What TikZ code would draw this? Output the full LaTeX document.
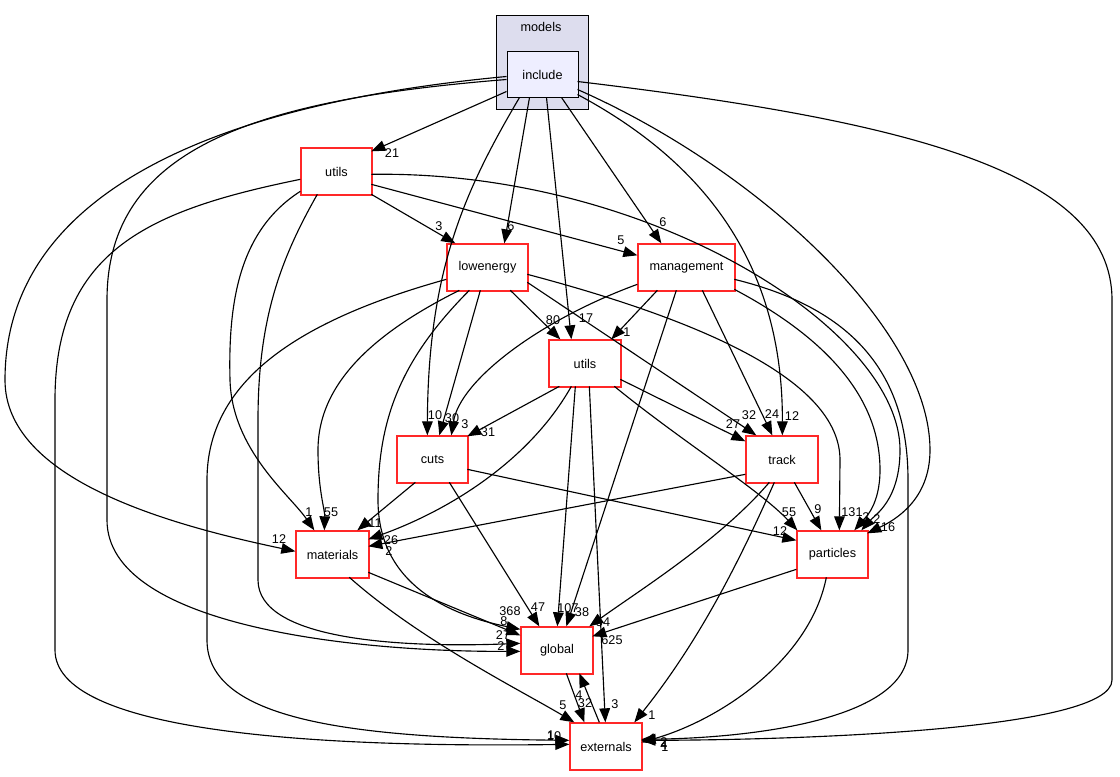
\documentclass[tikz,border=0pt]{standalone}
\usepackage{fontspec}
\setmainfont{Liberation Sans}
\usetikzlibrary{arrows.meta,calc}
\definecolor{dirred}{RGB}{255,40,40}
\definecolor{clusterfill}{RGB}{221,221,238}
\definecolor{incfill}{RGB}{238,238,255}
\newcommand\lblfont{\fontsize{9.5}{11}\selectfont}
\tikzset{
  dirbox/.style={draw=dirred, fill=white, line width=1pt, inner sep=0pt, minimum height=35.25pt, font=\lblfont},
  dep/.style={draw=black, line width=0.85pt, -{Triangle[length=10.5pt,width=8pt]}},
  lab/.style={font=\lblfont, inner sep=0pt},
}
\newcommand\lab[4]{\node[lab] (#1) at (#2,#3) {#4};}
\begin{document}
\begin{tikzpicture}[x=0.75pt,y=-0.75pt]
\useasboundingbox (0,0) rectangle (1120,777);
\node[draw, fill=clusterfill, line width=0.75pt, inner sep=0pt, minimum width=69pt, minimum height=70.5pt] (models) at (542,63) {};
\node[lab] (modelslabel) at (541,27) {models};
\node[draw, fill=incfill, line width=0.75pt, inner sep=0pt, minimum width=53.25pt, minimum height=34.5pt, font=\lblfont] (include) at (542.5,75) {include};

\node[dirbox, minimum width=53.25pt] (utilsA) at (336.5,171.5) {utils};
\node[dirbox, minimum width=60.75pt] (lowenergy) at (487.5,267.5) {lowenergy};
\node[dirbox, minimum width=72.75pt] (management) at (686.5,267.5) {management};
\node[dirbox, minimum width=54pt] (utilsB) at (585,363.5) {utils};
\node[dirbox, minimum width=53.25pt] (cuts) at (432.5,459.5) {cuts};
\node[dirbox, minimum width=54pt] (track) at (782,459.5) {track};
\node[dirbox, minimum width=54.75pt] (materials) at (332.5,554.5) {materials};
\node[dirbox, minimum width=53.25pt] (particles) at (832.5,554.5) {particles};
\node[dirbox, minimum width=54pt] (global) at (557,650.5) {global};
\node[dirbox, minimum width=54pt] (externals) at (606,746.5) {externals};

% from include
\draw[dep] ($(include.north west)+(0,40)$) -- ($(utilsA.north west)+(71,4)$);
\draw[dep] ($(include.north west)+(23,46)$) -- ($(lowenergy.north west)+(58,0)$);
\draw[dep] ($(include.north west)+(55,46)$) -- ($(management.north west)+(24,0)$);
\draw[dep] ($(include.north west)+(40,46)$) -- ($(utilsB.north west)+(23,0)$);
\draw[dep] ($(include.north west)+(13,46)$) .. controls (465,190) and (428,270) .. ($(cuts.north west)+(31,0)$);
\draw[dep] ($(include.north west)+(71,43)$) .. controls (700,160) and (783,260) .. ($(track.north west)+(37,0)$);
\draw[dep] ($(include.north west)+(71,38)$) .. controls (760,170) and (930,330) .. (930,450) .. controls (930,500) and (895,520) .. ($(particles.north west)+(71,3)$);
\draw[dep] ($(include.north west)+(71,30)$) .. controls (900,120) and (1112,170) .. (1112,300) -- (1112,680) .. controls (1112,730) and (800,740) .. ($(externals.north west)+(72,18)$);
\draw[dep] ($(include.north west)+(0,25)$) .. controls (200,105) and (5,200) .. (5,380) .. controls (5,480) and (170,525) .. ($(materials.north west)+(0,21)$);
\draw[dep] ($(include.north west)+(0,28)$) .. controls (250,100) and (107,150) .. (107,300) -- (107,520) .. controls (107,625) and (350,652) .. ($(global.north west)+(0,25)$);

% from utils (top)
\draw[dep] ($(utilsA.north west)+(71,47)$) -- ($(lowenergy.north west)+(9,0)$);
\draw[dep] ($(utilsA.north west)+(71,37)$) -- ($(management.north west)+(0,12)$);
\draw[dep] ($(utilsA.north west)+(71,27)$) .. controls (650,170) and (900,330) .. (900,450) .. controls (900,500) and (875,515) .. ($(particles.north west)+(65,0)$);
\draw[dep] ($(utilsA.north west)+(0,44)$) .. controls (240,230) and (228,300) .. (230,380) .. controls (232,450) and (290,495) .. ($(materials.north west)+(19,0)$);
\draw[dep] ($(utilsA.north west)+(17,47)$) .. controls (280,260) and (258,320) .. (258,420) -- (258,580) .. controls (258,640) and (400,648) .. ($(global.north west)+(0,17)$);
\draw[dep] ($(utilsA.north west)+(0,32)$) .. controls (150,210) and (55,250) .. (55,400) -- (55,650) .. controls (55,730) and (300,748) .. ($(externals.north west)+(0,22)$);

% from lowenergy
\draw[dep] ($(lowenergy.north west)+(64,47)$) -- ($(utilsB.north west)+(12,0)$);
\draw[dep] ($(lowenergy.north west)+(34,47)$) -- ($(cuts.north west)+(43,0)$);
\draw[dep] ($(lowenergy.north west)+(81,39)$) -- ($(track.north west)+(11,0)$);
\draw[dep] ($(lowenergy.north west)+(13,47)$) .. controls (380,330) and (318,380) .. (318,450) .. controls (318,490) and (325,510) .. ($(materials.north west)+(29,0)$);
\draw[dep] ($(lowenergy.north west)+(23,47)$) .. controls (400,360) and (378,420) .. (378,500) .. controls (378,585) and (450,615) .. ($(global.north west)+(0,3)$);
\draw[dep] ($(lowenergy.north west)+(0,36)$) .. controls (300,320) and (207,380) .. (207,480) -- (207,640) .. controls (207,720) and (350,738) .. ($(externals.north west)+(0,18)$);
\draw[dep] ($(lowenergy.north west)+(81,31)$) .. controls (700,320) and (840,380) .. (840,460) -- ($(particles.north west)+(43,0)$);

% from management
\draw[dep] ($(management.north west)+(20,47)$) -- ($(utilsB.north west)+(63,0)$);
\draw[dep] ($(management.north west)+(0,41)$) .. controls (540,320) and (460,380) .. ($(cuts.north west)+(55,0)$);
\draw[dep] ($(management.north west)+(65,47)$) -- ($(track.north west)+(27,0)$);
\draw[dep] ($(management.north west)+(39,47)$) -- ($(global.north west)+(46,0)$);
\draw[dep] ($(management.north west)+(97,46)$) .. controls (830,340) and (880,400) .. (880,470) .. controls (880,505) and (865,518) .. ($(particles.north west)+(58,0)$);
\draw[dep] ($(management.north west)+(97,36)$) .. controls (860,310) and (908,380) .. (908,480) -- (908,650) .. controls (908,720) and (750,738) .. ($(externals.north west)+(72,17)$);

% from utils (middle)
\draw[dep] ($(utilsB.north west)+(11,47)$) -- ($(cuts.north west)+(71,1)$);
\draw[dep] ($(utilsB.north west)+(72,40)$) -- ($(track.north west)+(0,6)$);
\draw[dep] ($(utilsB.north west)+(23,47)$) .. controls (530,460) and (450,510) .. ($(materials.north west)+(73,9)$);
\draw[dep] ($(utilsB.north west)+(27,47)$) -- ($(global.north west)+(37,0)$);
\draw[dep] ($(utilsB.north west)+(41,47)$) -- ($(externals.north west)+(36,0)$);
\draw[dep] ($(utilsB.north west)+(66,47)$) .. controls (680,440) and (760,490) .. ($(particles.north west)+(1,0)$);

% from cuts
\draw[dep] ($(cuts.north west)+(19,47)$) -- ($(materials.north west)+(62,0)$);
\draw[dep] ($(cuts.north west)+(53,47)$) -- ($(global.north west)+(19,0)$);
\draw[dep] ($(cuts.north west)+(71,34)$) -- ($(particles.north west)+(0,10)$);

% from track
\draw[dep] ($(track.north west)+(49,47)$) -- ($(particles.north west)+(25,0)$);
\draw[dep] ($(track.north west)+(0,39)$) -- ($(materials.north west)+(73,16)$);
\draw[dep] ($(track.north west)+(24,47)$) .. controls (720,540) and (640,590) .. ($(global.north west)+(69,0)$);
\draw[dep] ($(track.north west)+(29,47)$) .. controls (740,560) and (700,640) .. ($(externals.north west)+(65,0)$);

% from materials
\draw[dep] ($(materials.north west)+(73,42)$) -- ($(global.north west)+(0,9)$);
\draw[dep] ($(materials.north west)+(54,47)$) .. controls (420,640) and (520,690) .. ($(externals.north west)+(5,0)$);

% from particles
\draw[dep] ($(particles.north west)+(0,39)$) -- ($(global.north west)+(72,10)$);
\draw[dep] ($(particles.north west)+(30,47)$) .. controls (810,660) and (720,720) .. ($(externals.north west)+(72,20)$);

% global <-> externals
\draw[dep] ($(global.north west)+(46,47)$) -- ($(externals.north west)+(15,0)$);
\draw[dep] ($(externals.north west)+(30,0)$) -- ($(global.north west)+(59,47)$);

% labels
\lab{l1}{392}{153}{21}
\lab{l2}{511}{226}{6}
\lab{l3}{663}{222}{6}
\lab{l4}{586}{318}{17}
\lab{l5}{435}{415}{10}
\lab{l6}{792}{416}{12}
\lab{l7}{888}{527}{16}
\lab{l8}{664}{742}{2}
\lab{l9}{279}{539}{12}
\lab{l10}{501}{646}{2}
\lab{l11}{439}{226}{3}
\lab{l12}{621}{240}{5}
\lab{l13}{877}{519}{2}
\lab{l14}{309}{512}{1}
\lab{l15}{503}{635}{27}
\lab{l16}{554}{736}{10}
\lab{l17}{553}{320}{80}
\lab{l18}{452}{418}{30}
\lab{l19}{749}{415}{32}
\lab{l20}{331}{512}{55}
\lab{l21}{510}{611}{368}
\lab{l22}{551}{735}{1}
\lab{l23}{852}{512}{131}
\lab{l24}{627}{332}{1}
\lab{l25}{465}{424}{3}
\lab{l26}{772}{414}{24}
\lab{l27}{582}{612}{38}
\lab{l28}{866}{517}{2}
\lab{l29}{664}{745}{4}
\lab{l30}{488}{432}{31}
\lab{l31}{733}{424}{27}
\lab{l32}{391}{540}{26}
\lab{l33}{568}{608}{107}
\lab{l34}{615}{704}{3}
\lab{l35}{789}{512}{55}
\lab{l36}{375}{523}{11}
\lab{l37}{538}{607}{47}
\lab{l38}{780}{531}{12}
\lab{l39}{818}{509}{9}
\lab{l40}{389}{551}{2}
\lab{l41}{603}{622}{54}
\lab{l42}{652}{715}{1}
\lab{l43}{504}{621}{8}
\lab{l44}{563}{705}{5}
\lab{l45}{612}{640}{625}
\lab{l46}{665}{747}{1}
\lab{l47}{585}{703}{32}
\lab{l48}{579}{695}{4}
\end{tikzpicture}
\end{document}
